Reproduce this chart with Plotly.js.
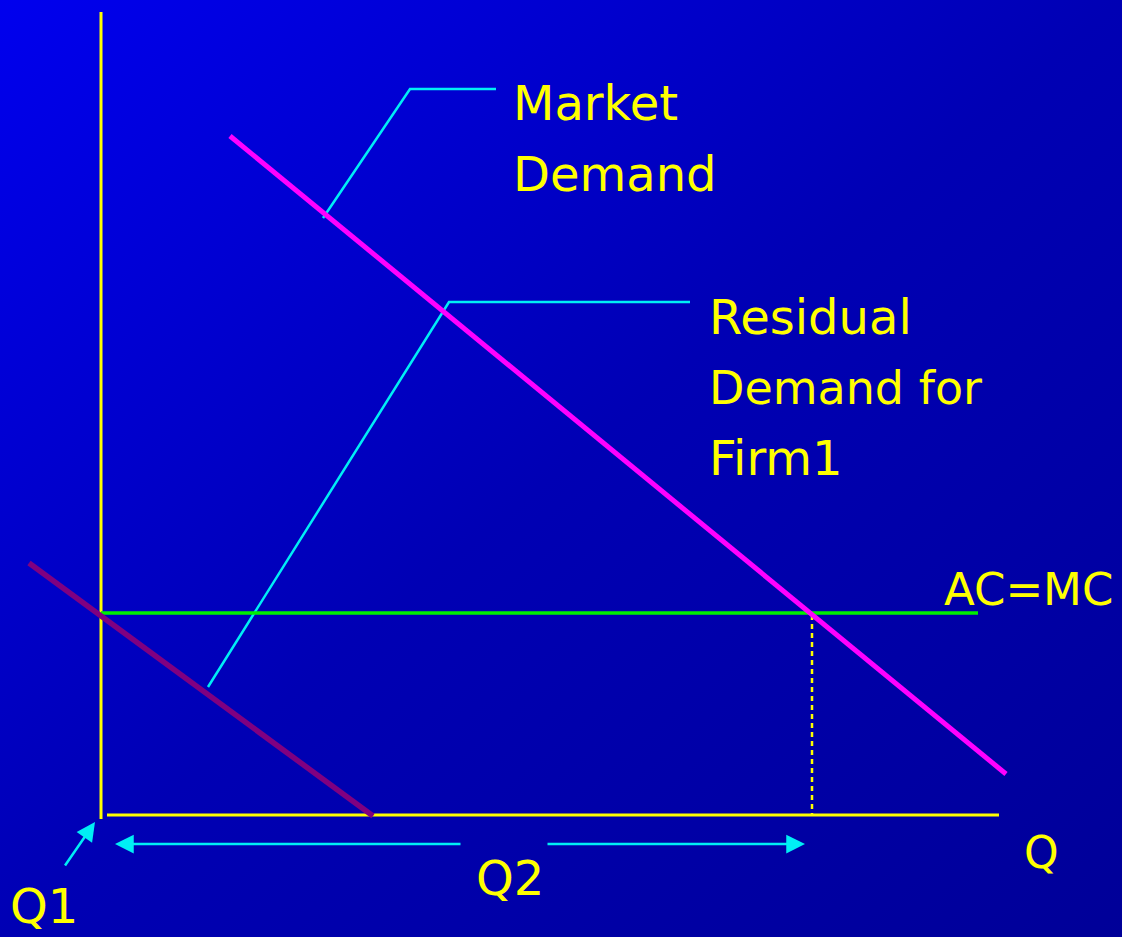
<!DOCTYPE html>
<html>
<head>
<meta charset="utf-8">
<script src="https://cdn.plot.ly/plotly-3.0.1.min.js"></script>
<style>
  html, body { margin: 0; padding: 0; }
  #chart {
    width: 1122px; height: 937px;
    background: linear-gradient(to bottom right, #0000EE 0%, #0000B4 50%, #000098 100%);
  }
</style>
</head>
<body>
<div id="chart"></div>
<script>
// Diagram geometry (quantity on x, price on y; y grows downward as in the slide)
const vAxisQ = [101, 101];           const vAxisP = [12, 819];
const hAxisQ = [107, 999];           const hAxisP = [815, 815];
const marketDemandQ = [230, 1006];   const marketDemandP = [136, 774];
const residualDemandQ = [29, 373];   const residualDemandP = [563, 816];
const acmcQ = [101, 978];            const acmcP = [613, 613];
const q2DropQ = [812, 812];          const q2DropP = [615, 814];
const marketLeaderQ = [323, 410, 496];   const marketLeaderP = [218, 89, 89];
const residualLeaderQ = [208, 449, 690]; const residualLeaderP = [687, 302, 302];

// Arrows: [tailQ, tailP, headQ, headP]
const arrowQ1 = [64, 867, 95, 822];
const arrowQ2Left = [462, 844, 115, 844];
const arrowQ2Right = [546, 844, 805, 844];

// Labels
const labelTexts = ["Market", "Demand", "Residual", "Demand for", "Firm1", "AC=MC", "Q", "Q1", "Q2"];
const labelQ =     [511, 511, 707, 707, 707, 942, 1022, 8, 474];
const labelP =     [103, 174, 317, 388, 458, 589, 852, 906, 878];
const labelSize =  [48, 48, 48, 46, 48, 45, 44, 48, 48];

const YELLOW = "#FFFF00", CYAN = "#00EEF5", MAGENTA = "#FF00FF", PURPLE = "#800080", GREEN = "#00F000";

function seg(x, y, color, width, dash) {
  return { x: x, y: y, type: "scatter", mode: "lines", hoverinfo: "skip",
           line: { color: color, width: width, dash: dash || "solid" } };
}

const traces = [
  seg(marketLeaderQ, marketLeaderP, CYAN, 2.5),
  seg(residualLeaderQ, residualLeaderP, CYAN, 2.5),
  seg(vAxisQ, vAxisP, YELLOW, 3),
  seg(hAxisQ, hAxisP, YELLOW, 3),
  seg(acmcQ, acmcP, GREEN, 3.5),
  seg(q2DropQ, q2DropP, YELLOW, 2.5, "5px,4px"),
  seg(residualDemandQ, residualDemandP, PURPLE, 5.5),
  seg(marketDemandQ, marketDemandP, MAGENTA, 5)
];

const annotations = labelTexts.map((t, i) => ({
  x: labelQ[i], y: labelP[i], xref: "x", yref: "y", text: t, showarrow: false,
  xanchor: "left", yanchor: "middle",
  font: { family: "DejaVu Sans, Verdana, sans-serif", size: labelSize[i], color: YELLOW }
}));

[arrowQ1, arrowQ2Left, arrowQ2Right].forEach(a => {
  annotations.push({
    x: a[2], y: a[3], ax: a[0], ay: a[1], xref: "x", yref: "y", axref: "x", ayref: "y",
    text: "", showarrow: true, arrowhead: 2, arrowsize: 1.5, arrowwidth: 2.5,
    arrowcolor: CYAN, standoff: 0, startstandoff: 0
  });
});

const layout = {
  width: 1122, height: 937,
  margin: { l: 0, r: 0, t: 0, b: 0, pad: 0 },
  paper_bgcolor: "rgba(0,0,0,0)", plot_bgcolor: "rgba(0,0,0,0)",
  showlegend: false,
  xaxis: { range: [0, 1122], visible: false, fixedrange: true },
  yaxis: { range: [937, 0], visible: false, fixedrange: true },
  annotations: annotations
};

Plotly.newPlot("chart", traces, layout, { staticPlot: true, displayModeBar: false });
</script>
</body>
</html>
